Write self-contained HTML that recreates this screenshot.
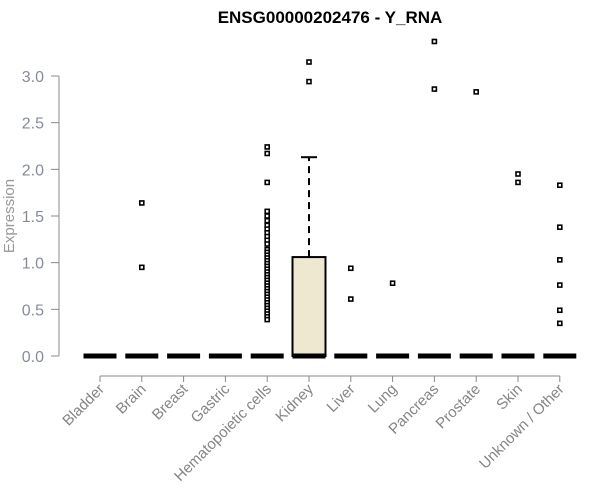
<!DOCTYPE html>
<html><head><meta charset="utf-8"><style>
body{margin:0;background:#fff}
svg{display:block;font-family:"Liberation Sans",Arial,sans-serif}
</style></head><body>
<svg id="chart" width="600" height="500" viewBox="0 0 600 500">
<text x="330" y="23" text-anchor="middle" font-size="17" font-weight="bold">ENSG00000202476 - Y_RNA</text>
<text transform="translate(14,216) rotate(-90)" text-anchor="middle" font-size="15" fill="#999">Expression</text>
<g id="yaxis"></g>
<g id="xaxis"></g>
<g id="plot"></g>
</svg>
<script>
const categories=["Bladder","Brain","Breast","Gastric","Hematopoietic cells","Kidney","Liver","Lung","Pancreas","Prostate","Skin","Unknown / Other"];
const q1=[0,0,0,0,0,0,0,0,0,0,0,0];
const medians=[0,0,0,0,0,0,0,0,0,0,0,0];
const q3=[0,0,0,0,0,1.06,0,0,0,0,0,0];
const whiskerHigh=[0,0,0,0,0,2.13,0,0,0,0,0,0];
const outliers=[[],[1.64,0.95],[],[],
[2.24,2.17,1.86,1.55,1.50,1.45,1.40,1.36,1.32,1.28,1.24,1.20,1.14,1.11,1.08,1.05,1.02,0.99,0.96,0.93,0.90,0.87,0.84,0.81,0.78,0.75,0.72,0.69,0.66,0.63,0.60,0.57,0.54,0.51,0.48,0.45,0.42,0.39],
[3.15,2.94],[0.94,0.61],[0.78],[3.37,2.86],[2.83],[1.95,1.86],[1.83,1.38,1.03,0.76,0.49,0.35]];
const yTicks=[0,0.5,1,1.5,2,2.5,3];
const yLabels=["0.0","0.5","1.0","1.5","2.0","2.5","3.0"];
const NS="http://www.w3.org/2000/svg";
const y=v=>356-v*93.33;
const x=i=>100+i*41.8;
function mk(t,a,p){const e=document.createElementNS(NS,t);for(const k in a)e.setAttribute(k,a[k]);p.appendChild(e);return e;}
const ya=document.getElementById('yaxis'),xa=document.getElementById('xaxis'),pl=document.getElementById('plot');
const yl=mk('line',{x1:59,x2:59,y1:y(3),y2:y(0),stroke:'#888'},ya);


yTicks.forEach((v,i)=>{
 const t=mk('line',{x1:51,x2:59,y1:y(v),y2:y(v),stroke:'#888'},ya);
 
 
 const l=mk('text',{x:44,y:y(v)+6,'text-anchor':'end','font-size':16,fill:'#868d99'},ya);
 
 
 l.textContent=yLabels[i];
});
const xl=mk('line',{x1:x(0),x2:x(11),y1:376,y2:376,stroke:'#888'},xa);


categories.forEach((c,i)=>{
 const t=mk('line',{x1:x(i),x2:x(i),y1:376,y2:382,stroke:'#888'},xa);
 
 
 const l=mk('text',{transform:`translate(${x(i)+5},${390}) rotate(-45)`,'text-anchor':'end','font-size':15,fill:'#858585'},xa);
 
 
 l.textContent=c;
 const g=mk('g',{},pl);
 
 
 const cx=x(i),hw=16.5;
 if(whiskerHigh[i]>q3[i]){
  mk('line',{x1:cx,x2:cx,y1:y(q3[i]),y2:y(whiskerHigh[i]),stroke:'#000','stroke-width':2,'stroke-dasharray':'7,5'},g);
  mk('line',{x1:cx-8,x2:cx+8,y1:y(whiskerHigh[i]),y2:y(whiskerHigh[i]),stroke:'#000','stroke-width':2},g);
 }
 if(q3[i]>q1[i]) mk('rect',{x:cx-hw,y:y(q3[i]),width:hw*2,height:y(q1[i])-y(q3[i]),fill:'#ede8cf',stroke:'#000','stroke-width':2},g);
 mk('line',{x1:cx-hw,x2:cx+hw,y1:y(medians[i]),y2:y(medians[i]),stroke:'#000','stroke-width':5},g);
 outliers[i].forEach(v=>{
  const p=mk('rect',{x:cx-2,y:y(v)-2,width:4,height:4,fill:'#fff',stroke:'#000','stroke-width':1.6},g);
  
  
 });
});
</script>
</body></html>
